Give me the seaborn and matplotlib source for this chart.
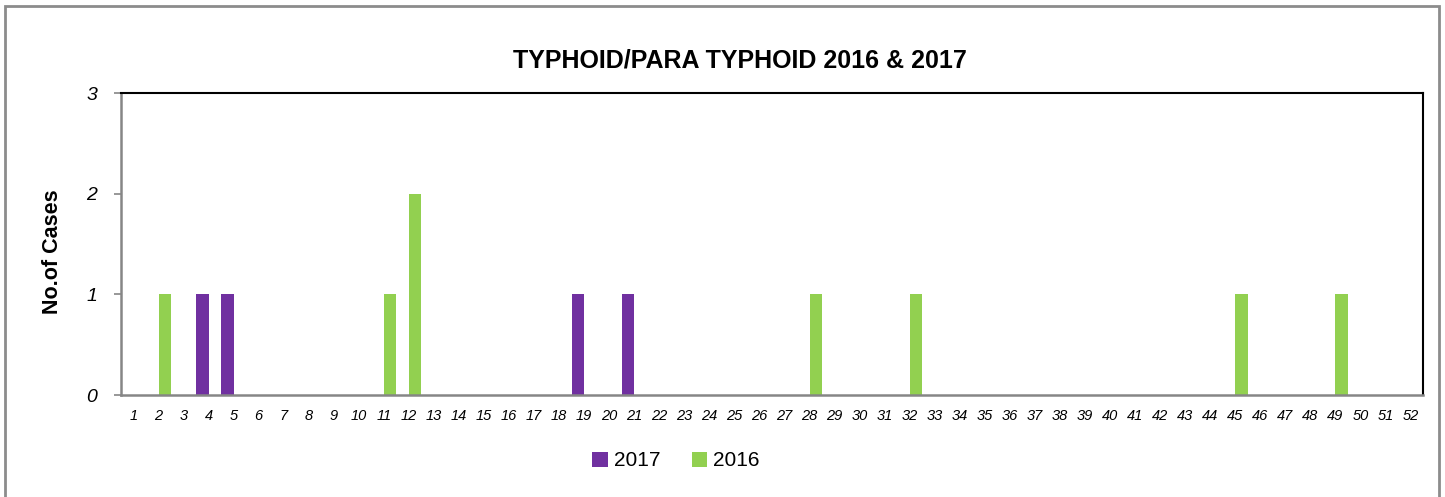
import pandas as pd
import numpy as np
import matplotlib
matplotlib.use("Agg")
import matplotlib.pyplot as plt
import seaborn as sns
from matplotlib.patches import Rectangle

# Weekly typhoid / para typhoid cases
weeks = list(range(1, 53))
cases_2017 = {4: 1, 5: 1, 19: 1, 21: 1}
cases_2016 = {2: 1, 11: 1, 12: 2, 28: 1, 32: 1, 45: 1, 49: 1}
years = ["2017", "2016"]
colors = ["#7030A0", "#92D050"]

rows = []
for w in weeks:
    rows.append({"week": str(w), "year": "2017", "cases": cases_2017.get(w, 0)})
    rows.append({"week": str(w), "year": "2016", "cases": cases_2016.get(w, 0)})
df = pd.DataFrame(rows)

sns.set_style("white")
plt.rcParams['font.family'] = ['Liberation Sans', 'DejaVu Sans']
plt.rcParams['text.color'] = 'black'
plt.rcParams['xtick.labelcolor'] = 'black'
plt.rcParams['ytick.labelcolor'] = 'black'
plt.rcParams['axes.labelcolor'] = 'black'

fig = plt.figure(figsize=(14.45, 4.97), dpi=100)
ax = fig.add_axes([121 / 1445, 1 - 395 / 497, (1423 - 121) / 1445, (395 - 93) / 497])

sns.barplot(data=df, x="week", y="cases", hue="year", hue_order=years,
            order=[str(w) for w in weeks], palette=colors, width=1.0,
            saturation=1, ax=ax, edgecolor="none", linewidth=0)

ax.set_xlim(-0.5, len(weeks) - 0.5)
ax.set_ylim(0, 3)
ax.set_yticks([0, 1, 2, 3])
ax.set_yticklabels(["0", "1", "2", "3"], fontsize=14, style="italic")
ax.set_xticks(range(len(weeks)))
ax.set_xticklabels([str(w) for w in weeks], fontsize=10.5, style="italic")
ax.set_xticks(np.arange(len(weeks) + 1) - 0.5, minor=True)
ax.tick_params(axis="x", which="major", length=0, pad=10)
ax.tick_params(axis="x", which="minor", length=5, color="#868686", width=1.2, direction="out")
ax.tick_params(axis="y", length=5, color="#868686", width=1.2, direction="out", pad=12)
ax.tick_params(bottom=True, left=True)

for side in ["left", "bottom"]:
    ax.spines[side].set_color("#868686")
    ax.spines[side].set_linewidth(1.8)
for side in ["top", "right"]:
    ax.spines[side].set_visible(True)
    ax.spines[side].set_color("black")
    ax.spines[side].set_linewidth(1.5)

ax.set_xlabel("")
ax.set_ylabel("No.of Cases", fontsize=15.5, fontweight="bold")
ax.yaxis.set_label_coords(-(121 - 63) / (1423 - 121), (395 - 252) / (395 - 93))
fig.text(740 / 1445, 1 - 60 / 497, "TYPHOID/PARA TYPHOID 2016 & 2017",
         fontsize=18, fontweight="bold", ha="center", va="center")

handles, labels = ax.get_legend_handles_labels()
ax.get_legend().remove()
fig.legend(handles, labels, loc="center", bbox_to_anchor=(676 / 1445, 1 - 461 / 497),
           ncol=2, frameon=False, fontsize=15, handlelength=0.75, handleheight=0.75,
           handletextpad=0.3, columnspacing=1.5)

fig.patches.append(Rectangle((5 / 1445, -0.1), (1439 - 5) / 1445, 1.1 - 6 / 497,
                             transform=fig.transFigure, fill=False,
                             edgecolor="#8c8c8c", linewidth=2))

fig.savefig("out.png", dpi=100)
